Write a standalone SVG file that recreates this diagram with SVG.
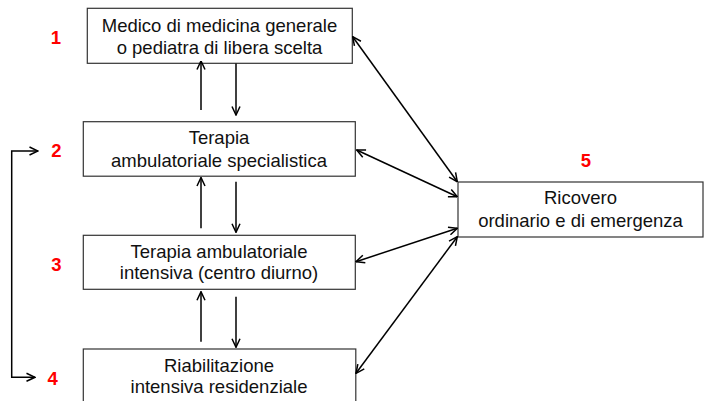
<svg xmlns="http://www.w3.org/2000/svg" width="704" height="401" viewBox="0 0 704 401">
<style>
.box{fill:#fff;stroke:#333;stroke-width:1.2}
.t{font-family:"Liberation Sans",Arial,sans-serif;font-size:18.5px;fill:#111;text-anchor:middle}
.n{font-family:"Liberation Sans",Arial,sans-serif;font-size:18.5px;font-weight:bold;fill:#ff0000;text-anchor:middle}
.c{fill:none;stroke:#000;stroke-width:1.5}
</style>
<defs>
<marker id="ah" viewBox="0 0 10 10" refX="9.5" refY="5" markerWidth="10" markerHeight="10" markerUnits="userSpaceOnUse" orient="auto-start-reverse">
<path d="M1,1 L9.5,5 L1,9" fill="none" stroke="#000" stroke-width="1.5"/>
</marker>
</defs>
<rect width="704" height="401" fill="#fff"/>
<g id="n1">
<rect class="box" x="87.3" y="8.3" width="265" height="55"/>
<text class="t" x="219.5" y="31.5">Medico di medicina generale</text>
<text class="t" x="219.5" y="54">o pediatra di libera scelta</text>
</g>
<g id="n2">
<rect class="box" x="83.3" y="121.7" width="272" height="54.5"/>
<text class="t" x="219" y="144">Terapia</text>
<text class="t" x="219" y="166.5">ambulatoriale specialistica</text>
</g>
<g id="n3">
<rect class="box" x="83.3" y="235.3" width="272" height="54"/>
<text class="t" x="219" y="257.5">Terapia ambulatoriale</text>
<text class="t" x="219" y="279.3">intensiva (centro diurno)</text>
</g>
<g id="n4">
<rect class="box" x="83.3" y="349" width="272.5" height="60"/>
<text class="t" x="219" y="371.7">Riabilitazione</text>
<text class="t" x="219" y="393.3">intensiva residenziale</text>
</g>
<g id="n5">
<rect class="box" x="458" y="182" width="245" height="55"/>
<text class="t" x="580.5" y="204">Ricovero</text>
<text class="t" x="580.5" y="227.3">ordinario e di emergenza</text>
</g>
<g id="labels">
<text class="n" x="56" y="44">1</text>
<text class="n" x="56.5" y="157">2</text>
<text class="n" x="56.5" y="271">3</text>
<text class="n" x="52.7" y="384.5">4</text>
<text class="n" x="586" y="167">5</text>
</g>
<g id="connectors">
<line class="c" x1="201" y1="110" x2="201" y2="61" marker-end="url(#ah)"/>
<line class="c" x1="236" y1="63.5" x2="236" y2="115" marker-end="url(#ah)"/>
<line class="c" x1="201" y1="228.3" x2="201" y2="177.5" marker-end="url(#ah)"/>
<line class="c" x1="236" y1="181.7" x2="236" y2="232.3" marker-end="url(#ah)"/>
<line class="c" x1="201" y1="341.7" x2="201" y2="291.7" marker-end="url(#ah)"/>
<line class="c" x1="236" y1="296.7" x2="236" y2="347.3" marker-end="url(#ah)"/>
<path class="c" d="M35,377.3 H11.7 V151 H38" marker-start="url(#ah)" marker-end="url(#ah)"/>
<line class="c" x1="352.7" y1="36.7" x2="457.3" y2="181.7" marker-start="url(#ah)" marker-end="url(#ah)"/>
<line class="c" x1="356.7" y1="150" x2="457.3" y2="196.7" marker-start="url(#ah)" marker-end="url(#ah)"/>
<line class="c" x1="356" y1="261.7" x2="457.3" y2="228.3" marker-start="url(#ah)" marker-end="url(#ah)"/>
<line class="c" x1="356" y1="373.3" x2="457.3" y2="236.7" marker-start="url(#ah)" marker-end="url(#ah)"/>
</g>
</svg>
